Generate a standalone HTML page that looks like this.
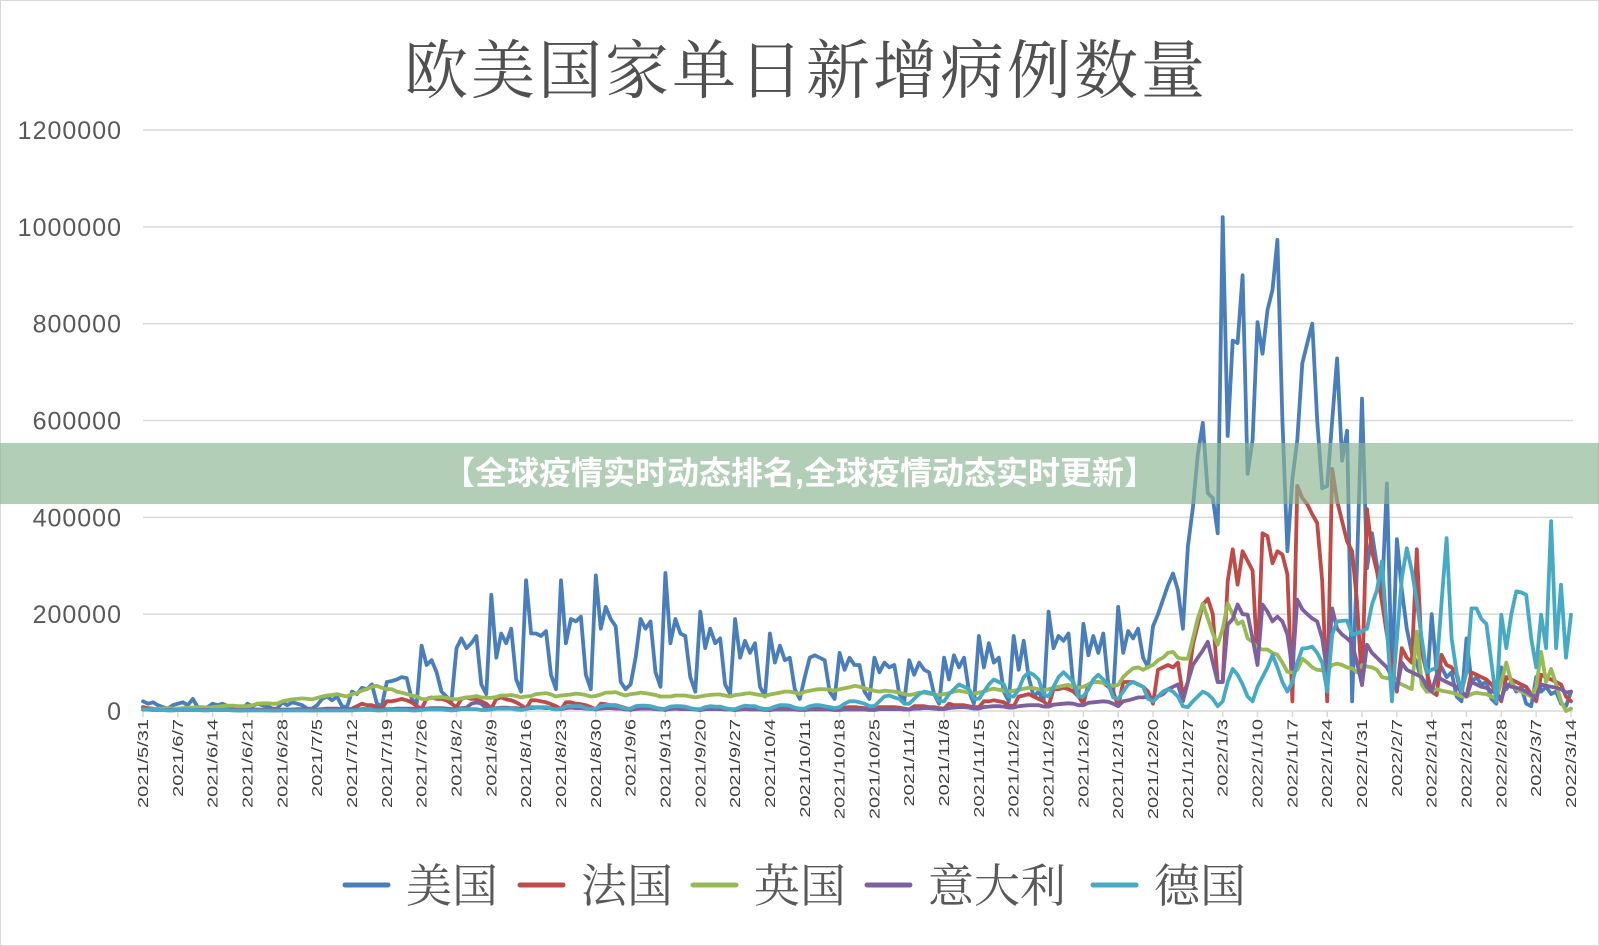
<!DOCTYPE html>
<html><head><meta charset="utf-8">
<style>
html,body{margin:0;padding:0;background:#fff;}
#wrap{position:relative;width:1599px;height:946px;overflow:hidden;background:#fff;}
svg{position:absolute;left:0;top:0;}
</style></head>
<body>
<div id="wrap">
<svg id="chart" width="1599" height="946">
  <rect x="0.5" y="0.5" width="1598" height="945" fill="#fff" stroke="#d9d9d9"/>
  <text x="806" y="93" text-anchor="middle" font-family="'Liberation Serif','Noto Serif CJK SC',serif" font-size="64" fill="#505050" letter-spacing="3">欧美国家单日新增病例数量</text>
  <g id="grid"></g>
  <g id="yticks"></g>
  <g id="xticks"></g>
  <g id="series"></g>
  <g id="legend"></g>
</svg>
<div style="position:absolute;left:0;top:443px;width:1599px;height:61px;background:rgba(140,180,145,0.66);"></div>
<div style="position:absolute;left:0;top:443px;width:1599px;height:61px;line-height:61px;text-align:center;color:#fff;font-weight:bold;font-size:32px;font-family:'Liberation Sans','Noto Sans CJK SC',sans-serif;">【全球疫情实时动态排名,全球疫情动态实时更新】</div>
</div>
<script>
const tickLabels = ["2021/5/31","2021/6/7","2021/6/14","2021/6/21","2021/6/28","2021/7/5","2021/7/12","2021/7/19","2021/7/26","2021/8/2","2021/8/9","2021/8/16","2021/8/23","2021/8/30","2021/9/6","2021/9/13","2021/9/20","2021/9/27","2021/10/4","2021/10/11","2021/10/18","2021/10/25","2021/11/1","2021/11/8","2021/11/15","2021/11/22","2021/11/29","2021/12/6","2021/12/13","2021/12/20","2021/12/27","2022/1/3","2022/1/10","2022/1/17","2022/1/24","2022/1/31","2022/2/7","2022/2/14","2022/2/21","2022/2/28","2022/3/7","2022/3/14"];
const yTicks = [0,200000,400000,600000,800000,1000000,1200000];
const seriesNames = ["美国","法国","英国","意大利","德国"];
// daily values in thousands, 2021/5/31 .. 2022/3/14
const usData = [20,15,18,12,8,5,12, 15,18,12,25,8,5,8, 15,12,15,10,8,5,5, 15,10,15,12,10,5,5, 18,12,18,15,12,5,5, 12,25,30,22,30,10,8, 40,35,48,45,55,15,10, 60,62,65,70,68,25,15, 135,95,105,80,40,30,20, 130,150,130,140,155,55,35, 240,110,160,140,170,65,40, 270,160,160,155,165,75,45, 270,140,190,185,195,75,45, 280,170,215,190,175,60,45, 55,110,190,170,185,80,50, 285,140,190,160,155,70,40, 205,130,170,140,150,55,35, 190,110,145,120,140,50,30, 160,100,135,105,110,45,25, 70,110,115,110,105,40,25, 120,85,110,95,95,40,25, 110,80,100,90,95,35,20, 105,75,100,85,80,35,15, 110,65,115,90,110,40,15, 155,90,140,100,110,40,20, 155,85,145,70,30,40,20, 205,130,155,145,160,50,30, 180,115,155,120,160,55,35, 215,120,165,150,170,110,90, 175,200,230,260,284,250,170, 340,420,530,595,450,440,367, 1020,568,765,760,900,490,560, 803,738,828,870,973,600,330, 480,560,718,760,800,600,460, 465,600,728,517,579,20,300, 645,295,367,300,232,470,60, 355,250,170,120,100,60,40, 200,80,90,70,80,30,20, 150,60,70,55,60,25,15, 90,45,60,40,50,15,10, 70,40,50,35,40,15,10, 40];
const frData = [8,6,5,4,4,3,3, 5,5,4,4,3,3,3, 4,4,3,3,3,2,2, 3,3,3,3,3,2,2, 3,3,3,4,4,3,3, 3,4,5,5,5,4,3, 5,10,15,12,12,8,5, 20,20,22,25,22,18,10, 5,25,28,25,25,22,15, 8,25,28,25,25,20,15, 5,25,28,24,22,18,12, 5,22,22,20,18,14,10, 4,18,18,15,14,12,8, 3,15,14,12,12,9,6, 2,8,8,7,7,6,5, 2,7,7,6,6,5,4, 2,6,6,6,5,5,4, 2,5,6,6,5,5,4, 2,5,6,6,6,5,4, 3,6,7,7,6,6,4, 3,7,8,8,7,6,5, 3,8,8,8,8,7,5, 3,10,10,10,8,8,6, 5,15,12,12,12,10,8, 8,20,20,22,20,18,12, 10,30,32,35,30,25,20, 10,45,45,48,45,40,30, 15,55,60,60,58,50,40, 10,60,60,60,55,50,40, 15,85,90,95,90,100,33, 60,137,178,220,232,200,60, 60,268,334,261,330,310,290, 100,367,361,305,330,323,282, 20,465,440,427,406,388,268, 20,500,434,392,350,330,226, 54,417,330,288,226,158,95, 40,130,110,100,334,122,80, 40,33,116,95,90,75,30, 30,80,75,70,65,55,40, 20,70,65,60,55,50,35, 20,75,70,65,60,55,30, 20];
const ukData = [3,3,4,5,5,6,5, 5,6,7,7,8,8,7, 8,9,10,11,11,10,10, 10,12,15,16,16,15,15, 20,22,24,25,26,25,24, 27,30,32,33,35,32,30, 35,37,42,45,50,52,48, 45,45,40,38,35,32,30, 25,24,27,28,29,27,25, 24,26,28,29,31,28,27, 27,29,32,32,33,31,28, 30,31,35,36,37,34,30, 32,33,34,36,35,33,30, 31,34,38,38,39,35,32, 35,36,38,37,35,33,30, 30,30,32,32,32,30,28, 30,32,33,34,34,32,30, 33,34,36,37,35,33,31, 34,36,38,40,40,38,35, 40,42,44,45,45,44,42, 45,47,49,52,50,47,44, 42,40,42,41,40,38,35, 33,35,38,38,36,34,33, 35,37,40,42,40,38,36, 38,40,44,46,44,42,40, 42,44,46,48,47,45,43, 45,48,50,52,54,50,48, 50,55,60,60,58,55,52, 54,70,80,88,90,85,91, 95,105,110,120,122,110,108, 108,150,191,222,191,160,137, 170,222,200,180,185,150,143, 130,127,127,120,116,100,81, 80,85,108,100,90,85,84, 85,95,98,95,90,88,80, 95,92,90,85,70,68,66, 60,55,50,45,164,55,40, 40,45,42,40,38,35,30, 30,35,38,36,35,30,25, 60,100,60,45,40,35,30, 50,122,60,87,55,20,0, 5];
const itData = [3,3,2,2,2,2,2, 2,2,2,2,2,2,2, 2,2,2,2,2,1,1, 2,2,2,2,2,1,1, 2,2,2,2,2,2,1, 2,2,2,3,3,3,2, 3,3,4,4,4,4,3, 4,4,5,5,5,5,4, 4,5,6,6,6,5,4, 5,6,7,15,18,15,5, 5,6,7,7,6,6,4, 5,6,7,7,6,6,4, 4,6,7,6,6,5,4, 4,5,6,6,5,5,3, 3,4,5,5,5,4,3, 3,4,5,4,4,4,3, 2,4,4,4,4,3,3, 2,3,4,3,3,3,2, 2,3,3,3,3,3,2, 2,3,3,3,3,3,2, 2,3,3,3,3,3,2, 2,4,4,4,4,4,3, 3,5,5,6,6,5,4, 4,6,7,8,8,7,5, 5,8,9,10,10,9,7, 7,10,11,12,12,12,9, 9,13,14,15,16,15,12, 12,17,18,19,20,19,15, 10,20,22,25,28,28,30, 20,30,35,45,50,55,20, 60,95,110,125,143,100,60, 60,178,190,220,200,199,150, 95,220,205,185,195,185,158, 87,230,210,200,191,185,150, 80,212,170,158,150,140,100, 54,137,120,110,100,90,70, 45,100,85,80,75,70,50, 40,75,65,60,55,50,40, 30,60,55,50,48,42,35, 25,55,50,48,45,40,33, 28,55,52,50,48,45,38, 40];
const deData = [3,4,3,3,2,1,1, 2,3,3,2,2,1,1, 2,2,2,2,1,1,1, 1,1,1,1,1,1,1, 1,1,1,1,1,1,1, 1,1,1,1,1,1,1, 1,2,2,2,2,1,1, 2,2,2,2,2,1,1, 2,3,3,3,3,2,1, 2,4,4,4,4,2,2, 3,5,5,5,5,3,2, 4,8,8,8,8,5,3, 5,9,10,10,10,6,4, 5,10,12,12,11,8,5, 5,10,11,11,10,7,4, 5,9,10,10,9,6,4, 4,8,10,9,9,6,4, 4,8,11,10,10,6,4, 5,9,12,12,11,7,5, 5,10,12,12,10,8,6, 8,15,20,20,18,15,10, 10,20,30,32,28,25,15, 15,25,35,40,38,35,20, 20,35,45,55,50,45,25, 25,40,55,65,60,55,30, 30,45,70,80,75,65,35, 30,50,70,80,70,60,30, 30,45,65,75,65,55,28, 25,40,55,60,55,50,25, 20,30,40,45,40,30,10, 8,20,30,40,35,25,10, 20,60,87,75,55,30,20, 50,70,90,116,90,60,40, 60,100,129,130,133,120,100, 40,158,185,186,187,158,160, 165,170,220,250,309,170,20, 150,274,336,290,226,150,80, 85,90,226,357,150,80,40, 80,212,212,190,180,100,20, 199,130,200,247,245,240,150, 90,199,130,392,130,261,110, 199];

const seriesData = [usData, frData, ukData, itData, deData];
const colors = ["#4a7ebb","#be4b48","#98b954","#7d60a0","#46aac5"];
const NS = "http://www.w3.org/2000/svg";
const X0 = 143, X1 = 1571, Y0 = 711, YTOP = 130, YMAX = 1200000, NDAYS = 287;
function xScale(d){ return X0 + d * (X1 - X0) / NDAYS; }
function yScale(v){ return Y0 - v / YMAX * (Y0 - YTOP); }
function mk(tag, attrs){ const e = document.createElementNS(NS, tag); for (const k in attrs) e.setAttribute(k, attrs[k]); return e; }

const grid = document.getElementById('grid');
const yt = document.getElementById('yticks');
yTicks.forEach(v => {
  const ln = mk('line', {x1: X0, x2: X1 + 2, y1: yScale(v), y2: yScale(v), stroke: '#d9d9d9', 'stroke-width': 1.5});
  
  
  grid.appendChild(ln);
  const t = mk('text', {x: 122, y: yScale(v) + 9, 'text-anchor': 'end', 'font-family': "'Liberation Sans',sans-serif", 'font-size': 25, fill: '#595959', 'letter-spacing': 1});
  t.textContent = v;
  
  
  yt.appendChild(t);
});

const xt = document.getElementById('xticks');
tickLabels.forEach((lab, i) => {
  const x = xScale(i * 7);
  const tk = mk('line', {x1: x, x2: x, y1: Y0, y2: Y0 + 6, stroke: '#d9d9d9', 'stroke-width': 1.5});
  
  
  xt.appendChild(tk);
  const t = mk('text', {x: 0, y: 0, 'text-anchor': 'end', transform: `translate(${x + 5},${Y0 + 8}) rotate(-90) scale(1.38,1)`, 'font-family': "'Liberation Sans',sans-serif", 'font-size': 14.5, fill: '#404040'});
  t.textContent = lab;
  
  
  xt.appendChild(t);
});

const sg = document.getElementById('series');
seriesData.forEach((arr, si) => {
  const pts = arr.map((v, d) => xScale(d).toFixed(1) + ',' + yScale(v * 1000).toFixed(1)).join(' ');
  const pl = mk('polyline', {points: pts, fill: 'none', stroke: colors[si], 'stroke-width': 3.8, 'stroke-linejoin': 'round', 'stroke-linecap': 'round'});
  
  
  sg.appendChild(pl);
});

const lg = document.getElementById('legend');
const legX = [345, 520, 693, 867, 1093];
seriesNames.forEach((name, i) => {
  const ln = mk('line', {x1: legX[i], x2: legX[i] + 43, y1: 885, y2: 885, stroke: colors[i], 'stroke-width': 5, 'stroke-linecap': 'round'});
  
  
  lg.appendChild(ln);
  const t = mk('text', {x: legX[i] + 61, y: 902, 'font-family': "'Liberation Serif','Noto Serif CJK SC',serif", 'font-size': 46, fill: '#595959'});
  t.textContent = name;
  
  
  lg.appendChild(t);
});
</script>
</body></html>
